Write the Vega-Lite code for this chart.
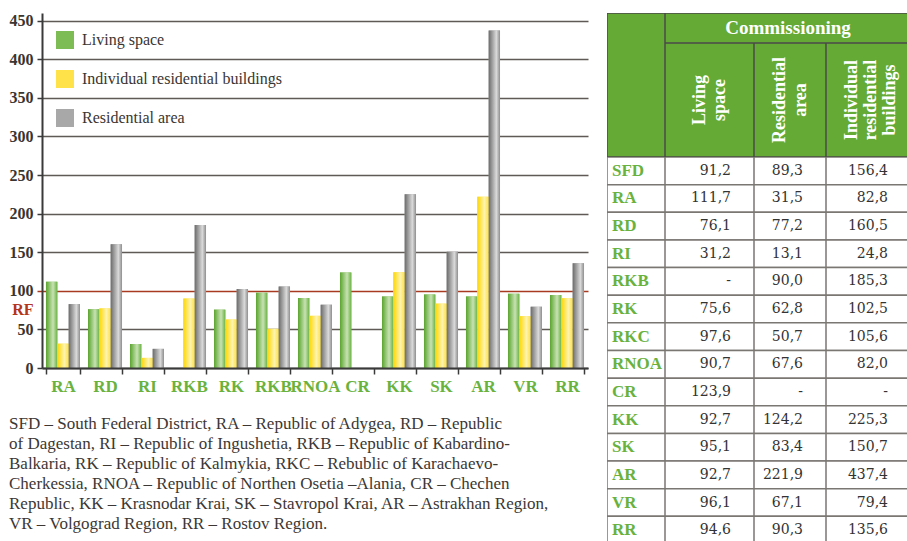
{
  "$schema": "https://vega.github.io/schema/vega-lite/v6.json",
  "padding": {"left": 9, "top": 12, "right": 0, "bottom": 0},
  "bounds": "flush",
  "spacing": 19,
  "config": {"view": {"stroke": null}, "font": "Liberation Serif"},
  "datasets": {
    "bars": [
      {"region": "RA", "series": "Living space", "value": 111.7},
      {"region": "RA", "series": "Individual residential buildings", "value": 31.5},
      {"region": "RA", "series": "Residential area", "value": 82.8},
      {"region": "RD", "series": "Living space", "value": 76.1},
      {"region": "RD", "series": "Individual residential buildings", "value": 77.2},
      {"region": "RD", "series": "Residential area", "value": 160.5},
      {"region": "RI", "series": "Living space", "value": 31.2},
      {"region": "RI", "series": "Individual residential buildings", "value": 13.1},
      {"region": "RI", "series": "Residential area", "value": 24.8},
      {"region": "RKB", "series": "Individual residential buildings", "value": 90.0},
      {"region": "RKB", "series": "Residential area", "value": 185.3},
      {"region": "RK", "series": "Living space", "value": 75.6},
      {"region": "RK", "series": "Individual residential buildings", "value": 62.8},
      {"region": "RK", "series": "Residential area", "value": 102.5},
      {"region": "RKC", "series": "Living space", "value": 97.6},
      {"region": "RKC", "series": "Individual residential buildings", "value": 50.7},
      {"region": "RKC", "series": "Residential area", "value": 105.6},
      {"region": "RNOA", "series": "Living space", "value": 90.7},
      {"region": "RNOA", "series": "Individual residential buildings", "value": 67.6},
      {"region": "RNOA", "series": "Residential area", "value": 82.0},
      {"region": "CR", "series": "Living space", "value": 123.9},
      {"region": "KK", "series": "Living space", "value": 92.7},
      {"region": "KK", "series": "Individual residential buildings", "value": 124.2},
      {"region": "KK", "series": "Residential area", "value": 225.3},
      {"region": "SK", "series": "Living space", "value": 95.1},
      {"region": "SK", "series": "Individual residential buildings", "value": 83.4},
      {"region": "SK", "series": "Residential area", "value": 150.7},
      {"region": "AR", "series": "Living space", "value": 92.7},
      {"region": "AR", "series": "Individual residential buildings", "value": 221.9},
      {"region": "AR", "series": "Residential area", "value": 437.4},
      {"region": "VR", "series": "Living space", "value": 96.1},
      {"region": "VR", "series": "Individual residential buildings", "value": 67.1},
      {"region": "VR", "series": "Residential area", "value": 79.4},
      {"region": "RR", "series": "Living space", "value": 94.6},
      {"region": "RR", "series": "Individual residential buildings", "value": 90.3},
      {"region": "RR", "series": "Residential area", "value": 135.6}
    ],
    "table": [
      {"code": "SFD", "c1": "91,2", "c2": "89,3", "c3": "156,4"},
      {"code": "RA", "c1": "111,7", "c2": "31,5", "c3": "82,8"},
      {"code": "RD", "c1": "76,1", "c2": "77,2", "c3": "160,5"},
      {"code": "RI", "c1": "31,2", "c2": "13,1", "c3": "24,8"},
      {"code": "RKB", "c1": "-", "c2": "90,0", "c3": "185,3"},
      {"code": "RK", "c1": "75,6", "c2": "62,8", "c3": "102,5"},
      {"code": "RKC", "c1": "97,6", "c2": "50,7", "c3": "105,6"},
      {"code": "RNOA", "c1": "90,7", "c2": "67,6", "c3": "82,0"},
      {"code": "CR", "c1": "123,9", "c2": "-", "c3": "-"},
      {"code": "KK", "c1": "92,7", "c2": "124,2", "c3": "225,3"},
      {"code": "SK", "c1": "95,1", "c2": "83,4", "c3": "150,7"},
      {"code": "AR", "c1": "92,7", "c2": "221,9", "c3": "437,4"},
      {"code": "VR", "c1": "96,1", "c2": "67,1", "c3": "79,4"},
      {"code": "RR", "c1": "94,6", "c2": "90,3", "c3": "135,6"}
    ]
  },
  "hconcat": [
    {
      "width": 546,
      "height": 355,
      "data": {"name": "bars"},
      "title": {
        "text": [
          "SFD – South Federal District, RA – Republic of Adygea, RD – Republic",
          "of Dagestan, RI – Republic of Ingushetia, RKB – Republic of Kabardino-",
          "Balkaria, RK – Republic of Kalmykia, RKC – Rebublic of Karachaevo-",
          "Cherkessia, RNOA – Republic of Northen Osetia –Alania, CR – Chechen",
          "Republic, KK – Krasnodar Krai, SK – Stavropol Krai, AR – Astrakhan Region,",
          "VR – Volgograd Region, RR – Rostov Region."
        ],
        "orient": "bottom",
        "anchor": "start",
        "frame": "bounds",
        "offset": 22,
        "font": "Liberation Serif",
        "fontSize": 17,
        "fontWeight": "normal",
        "lineHeight": 20,
        "color": "#3c3734"
      },
      "encoding": {
        "x": {
          "field": "region",
          "type": "nominal",
          "sort": ["RA", "RD", "RI", "RKB", "RK", "RKC", "RNOA", "CR", "KK", "SK", "AR", "VR", "RR"],
          "scale": {"paddingInner": 0.19, "paddingOuter": 0.095},
          "axis": {
            "title": null,
            "zindex": 1,
            "labelAngle": 0,
            "labelOverlap": false,
            "labelExpr": "datum.value == 'RKC' ? 'RKB' : datum.value",
            "labelFont": "Liberation Serif",
            "labelFontWeight": "bold",
            "labelFontSize": 17,
            "labelColor": "#6ab23e",
            "labelPadding": 4,
            "tickSize": 6,
            "tickBand": "extent",
            "tickColor": "#3a3a3a",
            "tickWidth": 1.5,
            "domainColor": "#3a3a3a",
            "domainWidth": 2,
            "grid": false
          }
        },
        "xOffset": {
          "field": "series",
          "type": "nominal",
          "scale": {"domain": ["Living space", "Individual residential buildings", "Residential area"], "paddingInner": 0, "paddingOuter": 0}
        },
        "y": {
          "field": "value",
          "type": "quantitative",
          "scale": {"domain": [0, 460], "nice": false},
          "axis": {
            "title": null,
            "values": [0, 50, 76, 100, 150, 200, 250, 300, 350, 400, 450],
            "labelExpr": "datum.value == 76 ? 'RF' : datum.label",
            "labelFont": "Liberation Serif",
            "labelFontWeight": "bold",
            "labelFontSize": 16,
            "labelColor": {"condition": {"test": "datum.value == 76", "value": "#b3361d"}, "value": "#3a3531"},
            "labelPadding": 4,
            "tickSize": 5,
            "tickWidth": 1.5,
            "tickColor": {"condition": {"test": "datum.value == 100", "value": "#a83a22"}, "value": "#3a3a3a"},
            "tickOpacity": {"condition": {"test": "datum.value == 76", "value": 0}, "value": 1},
            "grid": true,
            "gridColor": {"condition": {"test": "datum.value == 100", "value": "#a83a22"}, "value": "#5f5a55"},
            "gridOpacity": {"condition": {"test": "datum.value == 76", "value": 0}, "value": 1},
            "gridWidth": 1.5,
            "domainColor": "#3a3a3a",
            "domainWidth": 2
          }
        }
      },
      "layer": [
        {
          "mark": {"type": "bar"},
          "encoding": {
            "color": {
              "field": "series",
              "type": "nominal",
              "scale": {
                "domain": ["Living space", "Individual residential buildings", "Residential area"],
                "range": ["#7dbb55", "#ffe24a", "#a8a8a8"]
              },
              "legend": {
                "title": null,
                "orient": "none",
                "legendX": 14,
                "legendY": 18,
                "symbolType": "square",
                "symbolSize": 324,
                "symbolStrokeWidth": 0,
                "labelFont": "Liberation Serif",
                "labelFontSize": 16,
                "labelColor": "#3a3531",
                "labelOffset": 8,
                "labelLimit": 400,
                "rowPadding": 21
              }
            }
          }
        },
        {
          "mark": {"type": "bar"},
          "encoding": {
            "fill": {
              "condition": [
                {"test": "datum.series == 'Living space'", "value": {"gradient": "linear", "x1": 0, "y1": 0, "x2": 1, "y2": 0, "stops": [{"offset": 0, "color": "#5aa42e"}, {"offset": 0.62, "color": "#c8e2b3"}, {"offset": 1, "color": "#6cb345"}]}},
                {"test": "datum.series == 'Individual residential buildings'", "value": {"gradient": "linear", "x1": 0, "y1": 0, "x2": 1, "y2": 0, "stops": [{"offset": 0, "color": "#ffd600"}, {"offset": 0.62, "color": "#fff4b0"}, {"offset": 1, "color": "#ffe13c"}]}}
              ],
              "value": {"gradient": "linear", "x1": 0, "y1": 0, "x2": 1, "y2": 0, "stops": [{"offset": 0, "color": "#6b6b6b"}, {"offset": 0.68, "color": "#dadada"}, {"offset": 1, "color": "#8e8e8e"}]}
            }
          }
        }
      ]
    },
    {
      "spacing": 0,
      "vconcat": [
        {
          "spacing": 0,
          "hconcat": [
            {
              "width": 58,
              "height": 144,
              "data": {"values": [{"t": "h"}]},
              "mark": {"type": "rect", "fill": "#64aa35", "stroke": "#4a4a4a", "strokeWidth": 1.5, "clip": true},
              "encoding": {
                "x": {"field": "t", "type": "nominal", "scale": {"paddingInner": 0, "paddingOuter": 0}, "axis": null},
                "y": {"field": "t", "type": "nominal", "scale": {"paddingInner": 0, "paddingOuter": 0}, "axis": null}
              }
            },
            {
              "spacing": 0,
              "vconcat": [
                {
                  "width": 246,
                  "height": 30,
                  "data": {"values": [{"t": "Commissioning"}]},
                  "encoding": {
                    "x": {"field": "t", "type": "nominal", "scale": {"paddingInner": 0, "paddingOuter": 0}, "axis": null},
                    "y": {"field": "t", "type": "nominal", "scale": {"paddingInner": 0, "paddingOuter": 0}, "axis": null}
                  },
                  "layer": [
                    {"mark": {"type": "rect", "fill": "#64aa35", "stroke": "#4a4a4a", "strokeWidth": 1.5, "clip": true}},
                    {"mark": {"type": "text", "font": "Liberation Serif", "fontWeight": "bold", "fontSize": 19, "color": "white", "align": "center", "baseline": "middle", "clip": true}, "encoding": {"text": {"field": "t"}}}
                  ]
                },
                {
                  "spacing": 0,
                  "hconcat": [
                    {
                      "width": 89,
                      "height": 114,
                      "data": {"values": [{"t": "Living\nspace"}]},
                      "encoding": {
                        "x": {"field": "t", "type": "nominal", "scale": {"paddingInner": 0, "paddingOuter": 0}, "axis": null},
                        "y": {"field": "t", "type": "nominal", "scale": {"paddingInner": 0, "paddingOuter": 0}, "axis": null}
                      },
                      "layer": [
                        {"mark": {"type": "rect", "fill": "#64aa35", "stroke": "#4a4a4a", "strokeWidth": 1.5, "clip": true}},
                        {"mark": {"type": "text", "font": "Liberation Serif", "fontWeight": "bold", "fontSize": 18, "color": "white", "align": "center", "baseline": "middle", "angle": 270, "lineBreak": "\n", "lineHeight": 20, "dy": -10, "clip": true}, "encoding": {"text": {"field": "t"}}}
                      ]
                    },
                    {
                      "width": 72,
                      "height": 114,
                      "data": {"values": [{"t": "Residential\narea"}]},
                      "encoding": {
                        "x": {"field": "t", "type": "nominal", "scale": {"paddingInner": 0, "paddingOuter": 0}, "axis": null},
                        "y": {"field": "t", "type": "nominal", "scale": {"paddingInner": 0, "paddingOuter": 0}, "axis": null}
                      },
                      "layer": [
                        {"mark": {"type": "rect", "fill": "#64aa35", "stroke": "#4a4a4a", "strokeWidth": 1.5, "clip": true}},
                        {"mark": {"type": "text", "font": "Liberation Serif", "fontWeight": "bold", "fontSize": 18, "color": "white", "align": "center", "baseline": "middle", "angle": 270, "lineBreak": "\n", "lineHeight": 21, "dy": -10, "clip": true}, "encoding": {"text": {"field": "t"}}}
                      ]
                    },
                    {
                      "width": 85,
                      "height": 114,
                      "data": {"values": [{"t": "Individual\nresidential\nbuildings"}]},
                      "encoding": {
                        "x": {"field": "t", "type": "nominal", "scale": {"paddingInner": 0, "paddingOuter": 0}, "axis": null},
                        "y": {"field": "t", "type": "nominal", "scale": {"paddingInner": 0, "paddingOuter": 0}, "axis": null}
                      },
                      "layer": [
                        {"mark": {"type": "rect", "fill": "#64aa35", "stroke": "#4a4a4a", "strokeWidth": 1.5, "clip": true}},
                        {"mark": {"type": "text", "font": "Liberation Serif", "fontWeight": "bold", "fontSize": 18, "color": "white", "align": "center", "baseline": "middle", "angle": 270, "lineBreak": "\n", "lineHeight": 19, "dy": -17, "clip": true}, "encoding": {"text": {"field": "t"}}}
                      ]
                    }
                  ]
                }
              ]
            }
          ]
        },
        {
          "spacing": 0,
          "hconcat": [
            {
              "width": 58,
              "height": 387,
              "data": {"name": "table"},
              "encoding": {
                "y": {"field": "code", "type": "nominal", "sort": null, "scale": {"paddingInner": 0, "paddingOuter": 0}, "axis": null}
              },
              "layer": [
                {"mark": {"type": "rect", "fill": "white", "stroke": "#7a7672", "strokeWidth": 1.5, "clip": true},
                 "encoding": {"x": {"datum": "c", "type": "nominal", "scale": {"paddingInner": 0, "paddingOuter": 0}, "axis": null}}},
                {"mark": {"type": "text", "font": "Liberation Serif", "fontWeight": "bold", "fontSize": 17, "color": "#6ab23e", "align": "left", "baseline": "middle", "dx": 5, "clip": true},
                 "encoding": {
                   "x": {"datum": "c", "type": "nominal", "bandPosition": 0, "axis": null},
                   "text": {"field": "code"}
                 }}
              ]
            },
            {
              "width": 89,
              "height": 387,
              "data": {"name": "table"},
              "encoding": {
                "y": {"field": "code", "type": "nominal", "sort": null, "scale": {"paddingInner": 0, "paddingOuter": 0}, "axis": null}
              },
              "layer": [
                {"mark": {"type": "rect", "fill": "white", "stroke": "#7a7672", "strokeWidth": 1.5, "clip": true},
                 "encoding": {"x": {"datum": "c", "type": "nominal", "scale": {"paddingInner": 0, "paddingOuter": 0}, "axis": null}}},
                {"mark": {"type": "text", "font": "DejaVu Serif", "fontSize": 14, "color": "#333333", "align": "right", "baseline": "middle", "dx": -23, "clip": true},
                 "encoding": {"x": {"datum": "c", "type": "nominal", "bandPosition": 1, "axis": null}, "text": {"field": "c1"}}}
              ]
            },
            {
              "width": 72,
              "height": 387,
              "data": {"name": "table"},
              "encoding": {
                "y": {"field": "code", "type": "nominal", "sort": null, "scale": {"paddingInner": 0, "paddingOuter": 0}, "axis": null}
              },
              "layer": [
                {"mark": {"type": "rect", "fill": "white", "stroke": "#7a7672", "strokeWidth": 1.5, "clip": true},
                 "encoding": {"x": {"datum": "c", "type": "nominal", "scale": {"paddingInner": 0, "paddingOuter": 0}, "axis": null}}},
                {"mark": {"type": "text", "font": "DejaVu Serif", "fontSize": 14, "color": "#333333", "align": "right", "baseline": "middle", "dx": -23, "clip": true},
                 "encoding": {"x": {"datum": "c", "type": "nominal", "bandPosition": 1, "axis": null}, "text": {"field": "c2"}}}
              ]
            },
            {
              "width": 85,
              "height": 387,
              "data": {"name": "table"},
              "encoding": {
                "y": {"field": "code", "type": "nominal", "sort": null, "scale": {"paddingInner": 0, "paddingOuter": 0}, "axis": null}
              },
              "layer": [
                {"mark": {"type": "rect", "fill": "white", "stroke": "#7a7672", "strokeWidth": 1.5, "clip": true},
                 "encoding": {"x": {"datum": "c", "type": "nominal", "scale": {"paddingInner": 0, "paddingOuter": 0}, "axis": null}}},
                {"mark": {"type": "text", "font": "DejaVu Serif", "fontSize": 14, "color": "#333333", "align": "right", "baseline": "middle", "dx": -23, "clip": true},
                 "encoding": {"x": {"datum": "c", "type": "nominal", "bandPosition": 1, "axis": null}, "text": {"field": "c3"}}}
              ]
            }
          ]
        }
      ]
    }
  ]
}
